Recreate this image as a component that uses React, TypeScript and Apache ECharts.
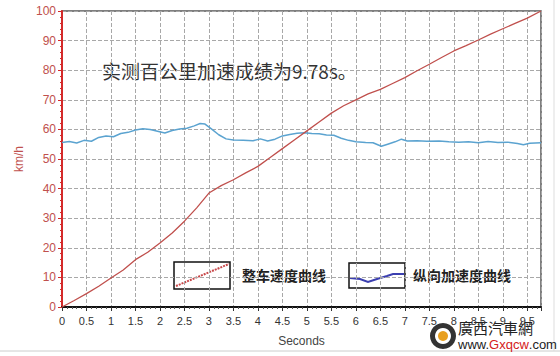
import React, { useEffect, useRef } from "react";
import * as echarts from "echarts";

const speedTimes = [0, 0.25, 0.5, 0.75, 1, 1.25, 1.5, 1.75, 2, 2.25, 2.5, 2.75, 3, 3.25, 3.5, 3.75, 4, 4.25, 4.5, 4.75, 5, 5.25, 5.5, 5.75, 6, 6.25, 6.5, 6.75, 7, 7.25, 7.5, 7.75, 8, 8.25, 8.5, 8.75, 9, 9.25, 9.5, 9.78];
const speedValues = [0, 2.2, 4.5, 7, 9.8, 12.5, 16, 18.5, 21.6, 25, 29, 33.5, 38.5, 41, 43, 45.3, 47.5, 50.5, 53.5, 56.5, 59.5, 62.5, 65.5, 68, 70, 72, 73.5, 75.5, 77.5, 79.8, 82, 84.3, 86.5, 88.3, 90.2, 92.2, 94, 95.8, 97.6, 100];

const accelTimes = [0, 0.15, 0.3, 0.45, 0.6, 0.75, 0.9, 1.05, 1.2, 1.35, 1.5, 1.65, 1.8, 1.95, 2.1, 2.25, 2.4, 2.55, 2.7, 2.82, 2.92, 3.05, 3.2, 3.35, 3.5, 3.7, 3.9, 4.05, 4.2, 4.35, 4.5, 4.65, 4.8, 4.95, 5.1, 5.25, 5.4, 5.55, 5.7, 5.85, 6.0, 6.2, 6.35, 6.52, 6.65, 6.8, 6.93, 7.05, 7.25, 7.45, 7.7, 7.9, 8.1, 8.3, 8.5, 8.7, 8.9, 9.1, 9.3, 9.42, 9.55, 9.78];
const accelValues = [55.6, 55.9, 55.4, 56.3, 56.0, 57.3, 57.8, 57.5, 58.6, 59.0, 59.8, 60.2, 60.0, 59.4, 58.8, 59.6, 60.1, 60.4, 61.2, 62.0, 61.8, 60.2, 58.2, 56.8, 56.4, 56.3, 56.2, 56.8, 56.1, 56.7, 57.8, 58.3, 58.7, 58.9, 58.6, 58.5, 58.1, 58.0, 57.0, 56.3, 55.8, 55.6, 55.5, 54.3, 55.0, 55.8, 56.7, 56.1, 56.2, 56.0, 56.1, 55.8, 55.7, 55.8, 55.5, 55.9, 55.6, 55.7, 55.2, 54.8, 55.3, 55.5];

const titleText = "实测百公里加速成绩为9.78s。";
const legendNames = ["整车速度曲线", "纵向加速度曲线"];
const xAxisName = "Seconds";
const yAxisName = "km/h";

export default function App() {
  const ref = useRef<HTMLDivElement>(null);
  useEffect(() => {
    if (!ref.current) return;
    const chart = echarts.init(ref.current, null, { renderer: "svg" });
    const red = "#c0504d";
    const blue = "#5ba3d0";
    const gridLine = { show: true, lineStyle: { color: "#a8a8a8", type: "dashed" as const, width: 1 } };
    chart.setOption({
      animation: false,
      backgroundColor: "#ffffff",
      grid: {
        left: 62, right: 19, top: 11, bottom: 49,
        show: true, borderColor: "#555", borderWidth: 1.5,
      },
      xAxis: {
        type: "value", min: 0, max: 9.78, interval: 0.5,
        name: xAxisName, nameLocation: "middle", nameGap: 28,
        nameTextStyle: { color: "#444", fontSize: 12, fontFamily: "Liberation Sans, Arial" },
        axisLine: { show: true, lineStyle: { color: "#111", width: 2 } },
        axisTick: { show: true, length: 4, lineStyle: { color: "#333" } },
        minorTick: { show: true, splitNumber: 5, length: 2, lineStyle: { color: "#555" } },
        axisLabel: {
          color: "#333", fontSize: 11, fontFamily: "Liberation Sans, Arial", margin: 8,
          showMaxLabel: false,
          formatter: (v: number) => (v > 9.6 ? "" : String(v)),
        },
        splitLine: gridLine,
      },
      yAxis: {
        type: "value", min: 0, max: 100, interval: 10,
        name: yAxisName, nameLocation: "middle", nameGap: 31, nameRotate: 90,
        nameTextStyle: { color: red, fontSize: 12, fontFamily: "Liberation Sans, Arial" },
        axisLine: { show: true, lineStyle: { color: "#d42a2a", width: 2 } },
        axisTick: { show: true, length: 4, lineStyle: { color: "#d42a2a" } },
        minorTick: { show: true, splitNumber: 5, length: 2, lineStyle: { color: "#d42a2a" } },
        axisLabel: { color: red, fontSize: 12, fontFamily: "Liberation Sans, Arial", margin: 6 },
        splitLine: gridLine,
      },
      series: [
        {
          name: legendNames[1], type: "line", showSymbol: false,
          data: accelTimes.map((t, i) => [t, accelValues[i]]),
          lineStyle: { color: blue, width: 1.5 },
        },
        {
          name: legendNames[0], type: "line", showSymbol: false,
          data: speedTimes.map((t, i) => [t, speedValues[i]]),
          lineStyle: { color: red, width: 1.3 },
        },
      ],
      graphic: [
        {
          type: "text", left: 102, top: 61,
          style: { text: titleText, fill: "#333", fontSize: 19, fontFamily: "Noto Sans CJK SC" },
        },
        { type: "rect", shape: { x: 174, y: 262, width: 56, height: 27 }, style: { fill: "#fff", stroke: "#111", lineWidth: 1.5 } },
        { type: "line", shape: { x1: 176, y1: 286, x2: 229, y2: 264 }, style: { stroke: "#c8484a", lineWidth: 2, lineDash: [2, 1] } },
        {
          type: "text", left: 242, top: 268,
          style: { text: legendNames[0], fill: "#222", fontSize: 14, fontWeight: "bold", fontFamily: "Noto Sans CJK SC" },
        },
        { type: "rect", shape: { x: 349, y: 263, width: 56, height: 25 }, style: { fill: "#fff", stroke: "#111", lineWidth: 1.5 } },
        {
          type: "polyline",
          shape: { points: [[350, 278], [360, 279], [368, 282], [377, 279], [387, 276], [393, 274], [404, 274]] },
          style: { stroke: "#3b3fb0", lineWidth: 2, fill: "none" },
        },
        {
          type: "text", left: 413, top: 268,
          style: { text: legendNames[1], fill: "#222", fontSize: 14, fontWeight: "bold", fontFamily: "Noto Sans CJK SC" },
        },
        { type: "line", shape: { x1: 0, y1: 351, x2: 560, y2: 351 }, style: { stroke: "#ccc", lineWidth: 1 } },
        { type: "line", shape: { x1: 554, y1: 0, x2: 554, y2: 351 }, style: { stroke: "#ddd", lineWidth: 1 } },
        { type: "ring", shape: { cx: 443, cy: 336, r: 13, r0: 8 }, style: { fill: "#333" } },
        { type: "circle", shape: { cx: 443, cy: 336, r: 5 }, style: { fill: "#e8a020" } },
        {
          type: "text", left: 458, top: 320,
          style: { text: "廣西汽車網", fill: "#222", fontSize: 15, fontFamily: "Noto Sans CJK TC" },
        },
        {
          type: "text", left: 458, top: 338,
          style: {
            text: "{a|www.}{b|Gxqcw}{a|.com}",
            rich: {
              a: { fill: "#222", fontSize: 13, fontFamily: "Liberation Sans, Arial" },
              b: { fill: "#d42020", fontSize: 13, fontFamily: "Liberation Sans, Arial" },
            },
          },
        },
      ],
    });
    return () => chart.dispose();
  }, []);
  return <div ref={ref} style={{ width: 560, height: 356, position: "fixed", left: 0, top: 0 }} />;
}
